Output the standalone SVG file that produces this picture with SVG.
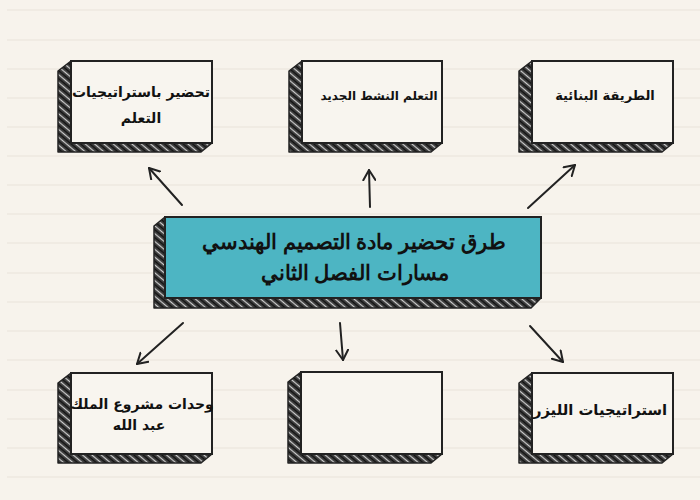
<svg xmlns="http://www.w3.org/2000/svg" width="700" height="500" viewBox="0 0 700 500">
<defs>
<pattern id="hatch" patternUnits="userSpaceOnUse" width="6" height="6" patternTransform="rotate(40)">
<rect width="6" height="6" fill="#3a3a3a"/>
<line x1="0" y1="1.5" x2="6" y2="1.5" stroke="#cfcfcf" stroke-width="1.2"/>
<line x1="0" y1="4.5" x2="6" y2="4.5" stroke="#111" stroke-width="1.2"/>
</pattern>
<marker id="arr" markerWidth="14" markerHeight="14" refX="11" refY="7" orient="auto" markerUnits="userSpaceOnUse">
<path d="M1,1 L11,7 L1,13" fill="none" stroke="#222" stroke-width="2" stroke-linecap="round" stroke-linejoin="round"/>
</marker>
</defs>
<style>
.side{fill:url(#hatch);stroke:#222;stroke-width:1.5;stroke-linejoin:round}
.face{fill:#f8f5ef;stroke:#222;stroke-width:2}
.cface{fill:#4db5c3;stroke:#222;stroke-width:2}
.t{font-family:"DejaVu Sans",sans-serif;font-weight:bold;font-size:14px;fill:#111;text-anchor:middle}
.ct{font-family:"Liberation Sans",Arial,sans-serif;font-weight:bold;font-size:21px;fill:#111;text-anchor:middle}
.bg{stroke:#e9e4da;stroke-width:1.2}
.con{fill:none;stroke:#222;stroke-width:2;stroke-linecap:round;marker-end:url(#arr)}
</style>
<rect width="700" height="500" fill="#f7f3ec"/>
<g id="background">
<line class="bg" x1="7" y1="10" x2="700" y2="10"/>
<line class="bg" x1="7" y1="40" x2="700" y2="40"/>
<line class="bg" x1="7" y1="69" x2="700" y2="69"/>
<line class="bg" x1="7" y1="98" x2="700" y2="98"/>
<line class="bg" x1="7" y1="127" x2="700" y2="127"/>
<line class="bg" x1="7" y1="156" x2="700" y2="156"/>
<line class="bg" x1="7" y1="185" x2="700" y2="185"/>
<line class="bg" x1="7" y1="214" x2="700" y2="214"/>
<line class="bg" x1="7" y1="243" x2="700" y2="243"/>
<line class="bg" x1="7" y1="273" x2="700" y2="273"/>
<line class="bg" x1="7" y1="302" x2="700" y2="302"/>
<line class="bg" x1="7" y1="331" x2="700" y2="331"/>
<line class="bg" x1="7" y1="360" x2="700" y2="360"/>
<line class="bg" x1="7" y1="390" x2="700" y2="390"/>
<line class="bg" x1="7" y1="419" x2="700" y2="419"/>
<line class="bg" x1="7" y1="448" x2="700" y2="448"/>
<line class="bg" x1="7" y1="477" x2="700" y2="477"/>
</g>
<g id="connectors">
<line class="con" x1="182" y1="205" x2="149" y2="168"/>
<line class="con" x1="370" y1="207" x2="369" y2="170"/>
<line class="con" x1="528" y1="208" x2="575" y2="165"/>
<line class="con" x1="183" y1="323" x2="137" y2="364"/>
<line class="con" x1="340" y1="323" x2="343" y2="360"/>
<line class="con" x1="530" y1="326" x2="563" y2="362"/>
</g>
<g id="node-top-left">
<polygon class="side" points="71,61 58,71 58,152 201,152 212,143 71,143"/>
<rect class="face" x="71" y="61" width="141" height="82"/>
<text class="t" direction="rtl" x="141" y="97">تحضير باستراتيجيات</text>
<text class="t" direction="rtl" x="141" y="123">التعلم</text>
</g>
<g id="node-top-middle">
<polygon class="side" points="302,61 289,71 289,152 431,152 442,143 302,143"/>
<rect class="face" x="302" y="61" width="140" height="82"/>
<text class="t" direction="rtl" x="379" y="100" style="font-size:12px">التعلم النشط الجديد</text>
</g>
<g id="node-top-right">
<polygon class="side" points="532,61 519,71 519,152 662,152 673,143 532,143"/>
<rect class="face" x="532" y="61" width="141" height="82"/>
<text class="t" direction="rtl" x="605" y="100" style="font-size:13px">الطريقة البنائية</text>
</g>
<g id="node-center">
<polygon class="side" points="165,217 154,226 154,308 531,308 541,298 165,298"/>
<rect class="cface" x="165" y="217" width="376" height="81"/>
<text class="ct" direction="rtl" x="354" y="249">طرق تحضير مادة التصميم الهندسي</text>
<text class="ct" direction="rtl" x="355" y="280">مسارات الفصل الثاني</text>
</g>
<g id="node-bottom-left">
<polygon class="side" points="71,373 58,383 58,463 201,463 212,454 71,454"/>
<rect class="face" x="71" y="373" width="141" height="81"/>
<text class="t" direction="rtl" x="142" y="409">وحدات مشروع الملك</text>
<text class="t" direction="rtl" x="139" y="430">عبد الله</text>
</g>
<g id="node-bottom-middle">
<polygon class="side" points="301,372 288,382 288,463 431,463 442,454 301,454"/>
<rect class="face" x="301" y="372" width="141" height="82"/>
</g>
<g id="node-bottom-right">
<polygon class="side" points="532,373 519,383 519,463 662,463 673,454 532,454"/>
<rect class="face" x="532" y="373" width="141" height="81"/>
<text class="t" direction="rtl" x="600" y="415" style="font-size:14.8px">استراتيجيات الليزر</text>
</g>
</svg>
